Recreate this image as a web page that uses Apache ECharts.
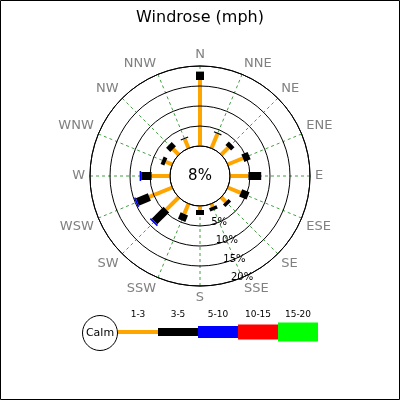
<!DOCTYPE html>
<html><head><meta charset="utf-8">
<script src="https://cdn.jsdelivr.net/npm/echarts@6/dist/echarts.min.js"></script>
<style>html,body{margin:0;padding:0;background:#fff}#c{width:400px;height:400px}</style>
</head><body><div id="c"></div>
<script>
// ---- data ----
const directions = ['N','NNE','NE','ENE','E','ESE','SE','SSE','S','SSW','SW','WSW','W','WNW','NW','NNW'];
const speedClasses = ['1-3','3-5','5-10','10-15','15-20'];
const pct_1_3   = [16.5, 3.9, 2.5, 4.1, 4.6, 3.5, 1.6, 0.8, 1.0, 2.75, 4.4, 6.2, 4.6, 1.75, 2.0, 2.5];
const pct_3_5   = [2.1, 0.3, 1.2, 1.7, 3.2, 2.0, 0.9, 0.9, 1.25, 1.75, 4.2, 3.25, 2.6, 1.0, 1.5, 0.3];
const pct_5_10  = [0, 0, 0, 0, 0, 0, 0, 0, 0, 0, 0.4, 0.4, 0.4, 0, 0, 0];
const pct_10_15 = [0, 0, 0, 0, 0, 0, 0, 0, 0, 0, 0, 0, 0, 0, 0, 0];
const pct_15_20 = [0, 0, 0, 0, 0, 0, 0, 0, 0, 0, 0, 0, 0, 0, 0, 0];
const calmPct = 8;
const ringTicks = [5, 10, 15, 20];
const titleText = 'Windrose (mph)';

// ---- styles ----
const classValues = [pct_1_3, pct_3_5, pct_5_10, pct_10_15, pct_15_20];
const classColors = ['#FFA500', '#000000', '#0000FF', '#FF0000', '#00FF00'];
const classWidths = [4, 8, 10, 15, 19];
const legendHeights = [4, 8, 12, 15, 19];
const FONT = 'DejaVu Sans';
const CX = 200, CY = 176;
const rMax = ringTicks[ringTicks.length - 1];

function makeRender(w, color) {
  return function (params, api) {
    const idx = api.value(0);
    const s = api.value(1), e = api.value(2);
    const a = api.coord([s, idx]), b = api.coord([e, idx]);
    const o = api.coord([0, idx]), f = api.coord([rMax, idx]);
    let ux = f[0] - o[0], uy = f[1] - o[1];
    const L = Math.hypot(ux, uy); ux /= L; uy /= L;
    const nx = -uy * w / 2, ny = ux * w / 2;
    return {
      type: 'polygon',
      shape: { points: [[a[0] + nx, a[1] + ny], [b[0] + nx, b[1] + ny], [b[0] - nx, b[1] - ny], [a[0] - nx, a[1] - ny]] },
      style: { fill: color }
    };
  };
}

const series = speedClasses.map((name, k) => {
  const data = [];
  directions.forEach((d, i) => {
    let start = 0;
    for (let j = 0; j < k; j++) start += classValues[j][i];
    const v = classValues[k][i];
    if (v > 0) data.push([d, start, start + v]);
  });
  return {
    type: 'custom', name, coordinateSystem: 'polar', polarIndex: 0,
    dimensions: ['dir', 'start', 'end'],
    encode: { angle: 0, radius: [1, 2] },
    data, renderItem: makeRender(classWidths[k], classColors[k]), z: 5 + k
  };
});

const graphics = [
  { type: 'rect', shape: { x: 0.5, y: 0.5, width: 399, height: 399 }, style: { fill: 'none', stroke: '#000', lineWidth: 1 }, z: 100 },
  { type: 'text', x: CX, y: CY, style: { text: calmPct + '%', font: '15px "' + FONT + '"', fill: '#000', align: 'center', verticalAlign: 'middle' }, z: 100 },
  { type: 'circle', shape: { cx: 100, cy: 333, r: 17.5 }, style: { fill: '#fff', stroke: '#000', lineWidth: 1 }, z: 100 },
  { type: 'text', x: 100, y: 333, style: { text: 'Calm', font: '11px "' + FONT + '"', fill: '#000', align: 'center', verticalAlign: 'middle' }, z: 101 }
];
speedClasses.forEach((name, k) => {
  const h = legendHeights[k];
  graphics.push({ type: 'rect', shape: { x: 118 + 40 * k, y: 332 - h / 2, width: 40, height: h }, style: { fill: classColors[k] }, z: 99 });
  graphics.push({ type: 'text', x: 138 + 40 * k, y: 315, style: { text: name, font: '9px "' + FONT + '"', fill: '#000', align: 'center', verticalAlign: 'middle' }, z: 100 });
});

const chart = echarts.init(document.getElementById('c'));
chart.setOption({
  animation: false,
  backgroundColor: '#fff',
  title: { text: titleText, left: 'center', top: 5, textStyle: { fontFamily: FONT, fontSize: 16, fontWeight: 'normal', color: '#000' } },
  polar: [
    { center: [CX, CY], radius: [30, 110] },
    { center: [CX, CY], radius: [30, 110] }
  ],
  angleAxis: [
    {
      polarIndex: 0, type: 'category', data: directions, boundaryGap: false, startAngle: 90, clockwise: true,
      axisLine: { show: true, lineStyle: { color: '#000', width: 1 } },
      axisTick: { show: false },
      axisLabel: { show: true, color: '#808080', fontFamily: FONT, fontSize: 13, margin: 5 },
      splitLine: { show: true, lineStyle: { color: '#45a045', width: 1, type: [3, 3] } }
    },
    {
      polarIndex: 1, type: 'value', startAngle: -67.5, min: 0, max: 360,
      axisLine: { show: false }, axisTick: { show: false }, axisLabel: { show: false }, splitLine: { show: false }
    }
  ],
  radiusAxis: [
    {
      polarIndex: 0, type: 'value', min: 0, max: rMax, interval: ringTicks[0],
      axisLine: { show: false }, axisTick: { show: false }, axisLabel: { show: false },
      splitLine: { show: false }
    },
    {
      polarIndex: 1, type: 'value', min: 0, max: rMax, interval: ringTicks[0],
      axisLine: { show: false }, axisTick: { show: false },
      splitLine: { show: true, lineStyle: { color: '#000', width: 1 } },
      axisLabel: {
        show: true, margin: 0, align: 'center', verticalAlign: 'middle', color: '#000', fontFamily: FONT, fontSize: 10,
        formatter: v => ringTicks.indexOf(v) >= 0 ? v + '%' : ''
      },
      z: 20
    }
  ],
  series,
  graphic: graphics
});
</script></body></html>
